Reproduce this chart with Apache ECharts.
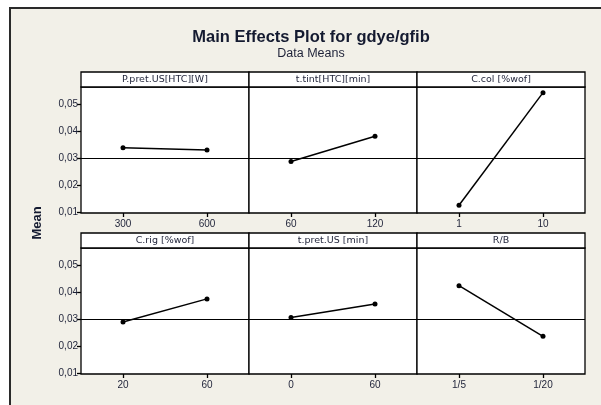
<!DOCTYPE html>
<html>
<head>
<meta charset="utf-8">
<script src="https://cdn.jsdelivr.net/npm/echarts@6/dist/echarts.min.js"></script>
<style>html,body{margin:0;padding:0;background:#fff;}#c{width:601px;height:405px;}</style>
</head>
<body>
<div id="c"></div>
<script>
// ---- data ----
const chartTitle = 'Main Effects Plot for gdye/gfib';
const chartSubtitle = 'Data Means';
const yAxisTitle = 'Mean';
const panelTitles = ['P.pret.US[HTC][W]', 't.tint[HTC][min]', 'C.col [%wof]', 'C.rig [%wof]', 't.pret.US [min]', 'R/B'];
const pPretUS_levels = ['300', '600'];
const pPretUS_means = [0.0338, 0.0330];
const tTint_levels = ['60', '120'];
const tTint_means = [0.0287, 0.0381];
const cCol_levels = ['1', '10'];
const cCol_means = [0.0125, 0.0543];
const cRig_levels = ['20', '60'];
const cRig_means = [0.0289, 0.0375];
const tPretUS_levels = ['0', '60'];
const tPretUS_means = [0.0306, 0.0356];
const rb_levels = ['1/5', '1/20'];
const rb_means = [0.0424, 0.0236];
const grandMean = 0.0333;
const yTickValues = [0.01, 0.02, 0.03, 0.04, 0.05];
const yMin = 0.0096, yMax = 0.0564;

// ---- layout ----
const levelsList = [pPretUS_levels, tTint_levels, cCol_levels, cRig_levels, tPretUS_levels, rb_levels];
const meansList = [pPretUS_means, tTint_means, cCol_means, cRig_means, tPretUS_means, rb_means];
const colLeft = [81, 249, 417];
const colW = 168;
const rowTop = [87, 248];
const plotH = 126;
const stripH = 15;
const FONT = '"Liberation Sans", Arial, sans-serif';
const FONT2 = '"DejaVu Sans", Verdana, sans-serif';
const labelColor = '#1e2238';

const grids = [], xAxes = [], yAxes = [], series = [], graphics = [];

graphics.push({type:'rect', shape:{x:10, y:8, width:640, height:420}, style:{fill:'#f2f0e8', stroke:'#2a2a2a', lineWidth:2}, z:-10});

for (let i = 0; i < 6; i++) {
  const r = Math.floor(i / 3), c = i % 3;
  grids.push({left: colLeft[c], top: rowTop[r], width: colW, height: plotH, show: true,
    backgroundColor: '#fff', borderColor: '#000', borderWidth: 1.3});
  xAxes.push({type: 'category', gridIndex: i, data: levelsList[i], boundaryGap: true,
    axisLine: {show: false},
    axisTick: {show: true, alignWithLabel: true, length: 4, lineStyle: {color: '#000', width: 1.3}},
    axisLabel: {show: true, margin: 6, fontSize: 10, fontFamily: FONT, color: labelColor},
    splitLine: {show: false}});
  const showY = c === 0;
  yAxes.push({type: 'value', gridIndex: i, min: yMin, max: yMax,
    axisLine: {show: false},
    axisTick: {show: showY, length: 4, customValues: yTickValues, lineStyle: {color: '#000', width: 1.3}},
    axisLabel: {show: showY, customValues: yTickValues, fontSize: 10, margin: 3, fontFamily: FONT, color: labelColor,
      formatter: v => v.toFixed(2).replace('.', ',')},
    splitLine: {show: false}});
  series.push({type: 'line', xAxisIndex: i, yAxisIndex: i, data: meansList[i],
    symbol: 'circle', symbolSize: 5, showSymbol: true,
    lineStyle: {color: '#000', width: 1.5}, itemStyle: {color: '#000'},
    markLine: {silent: true, symbol: ['none', 'none'], label: {show: false},
      lineStyle: {color: '#000', type: 'solid', width: 1.1},
      data: [{yAxis: grandMean}]}});
  graphics.push({type: 'rect', shape: {x: colLeft[c], y: rowTop[r] - stripH, width: colW, height: stripH},
    style: {fill: '#fff', stroke: '#000', lineWidth: 1.3}, z: 5});
  graphics.push({type: 'text', x: colLeft[c] + colW / 2, y: rowTop[r] - stripH / 2,
    style: {text: panelTitles[i], fill: labelColor, font: '9.5px ' + FONT2, align: 'center', verticalAlign: 'middle'}, z: 6});
}

graphics.push({type: 'text', x: 311, y: 37, style: {text: chartTitle, fill: '#141a30', font: 'bold 16.5px ' + FONT, align: 'center', verticalAlign: 'middle'}, z: 6});
graphics.push({type: 'text', x: 311, y: 54, style: {text: chartSubtitle, fill: '#1e2238', font: '12.5px ' + FONT, align: 'center', verticalAlign: 'middle'}, z: 6});
graphics.push({type: 'text', x: 37, y: 223, rotation: Math.PI / 2,
  style: {text: yAxisTitle, fill: '#141a30', font: 'bold 13px ' + FONT, align: 'center', verticalAlign: 'middle'}, z: 6});

const chart = echarts.init(document.getElementById('c'), null, {renderer: 'canvas'});
chart.setOption({animation: false, backgroundColor: '#fff', grid: grids, xAxis: xAxes, yAxis: yAxes, series: series, graphic: graphics});
</script>
</body>
</html>
